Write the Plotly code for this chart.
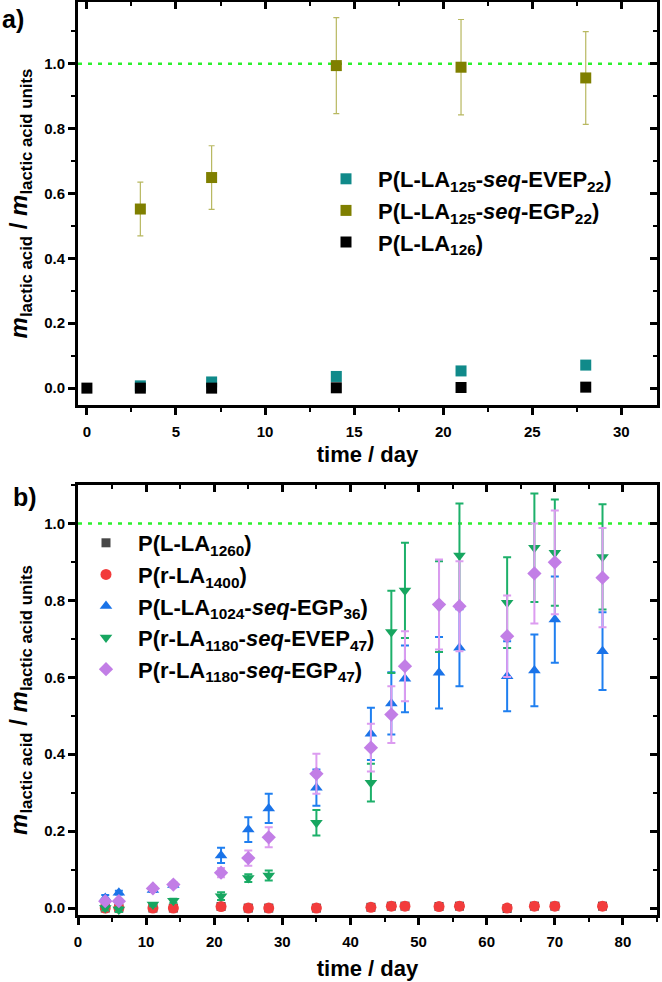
import plotly.graph_objects as go

# ---------------- Panel a data ----------------
days_evep22 = [3, 7, 14, 21, 28]
val_evep22 = [0.007, 0.019, 0.036, 0.053, 0.071]
err_evep22 = [0.004, 0.003, 0.003, 0.003, 0.003]

days_egp22 = [3, 7, 14, 21, 28]
val_egp22 = [0.552, 0.649, 0.994, 0.989, 0.956]
err_egp22 = [0.083, 0.098, 0.148, 0.147, 0.143]

days_plla126 = [0, 3, 7, 14, 21, 28]
val_plla126 = [0.0, 0.0, 0.0, 0.001, 0.002, 0.003]

# ---------------- Panel b data ----------------
days_b = [4, 6, 11, 14, 21, 25, 28, 35, 43, 46, 48, 53, 56, 63, 67, 70, 77]

val_plla1260 = [0.0, 0.0, 0.0, 0.0, 0.004, 0.0, 0.0, 0.0, 0.002, 0.005, 0.005, 0.004, 0.005, -0.001, 0.005, 0.005, 0.005]
err_plla1260 = [0.006] * 17

val_prla1400 = [0.0, 0.0, 0.0, 0.0, 0.004, 0.0, 0.0, 0.0, 0.002, 0.005, 0.005, 0.004, 0.005, 0.0, 0.005, 0.005, 0.005]
err_prla1400 = [0.004] * 17

val_egp36 = [0.026, 0.040, 0.047, 0.060, 0.137, 0.204, 0.259, 0.313, 0.453, 0.532, 0.596, 0.612, 0.677, 0.603, 0.618, 0.750, 0.668]
err_egp36 = [0.008, 0.005, 0.005, 0.006, 0.020, 0.032, 0.038, 0.047, 0.068, 0.081, 0.087, 0.093, 0.100, 0.091, 0.093, 0.112, 0.101]

val_evep47 = [0.000, -0.004, 0.009, 0.019, 0.031, 0.078, 0.085, 0.222, 0.326, 0.718, 0.826, 0.784, 0.917, 0.794, 0.937, 0.924, 0.913]
err_evep47 = [0.006, 0.006, 0.004, 0.005, 0.010, 0.010, 0.013, 0.033, 0.049, 0.107, 0.124, 0.118, 0.135, 0.118, 0.141, 0.138, 0.137]

val_egp47 = [0.018, 0.018, 0.051, 0.061, 0.092, 0.130, 0.184, 0.349, 0.417, 0.503, 0.629, 0.789, 0.785, 0.707, 0.870, 0.899, 0.859]
err_egp47 = [0.004, 0.005, 0.006, 0.006, 0.012, 0.020, 0.026, 0.052, 0.062, 0.074, 0.091, 0.117, 0.117, 0.106, 0.130, 0.135, 0.129]

REF_LINE = 1.0

W, H = 662, 982
FONT = "Liberation Sans"

def px_x(p):
    return min(1.0, max(0.0, p / W))

def px_y(p):
    return min(1.0, max(0.0, 1 - p / H))

fig = go.Figure()

# ---- panel a traces ----
fig.add_trace(go.Scatter(
    x=days_evep22, y=val_evep22, mode="markers", xaxis="x", yaxis="y",
    name="P(L-LA<sub>125</sub>-<i>seq</i>-EVEP<sub>22</sub>)",
    marker=dict(symbol="square", size=11, color="#108a8a"),
    error_y=dict(type="data", array=err_evep22, color="#108a8a", thickness=1, width=3),
    legend="legend", legendgroup="a1"))
fig.add_trace(go.Scatter(
    x=days_egp22, y=val_egp22, mode="markers", xaxis="x", yaxis="y",
    name="P(L-LA<sub>125</sub>-<i>seq</i>-EGP<sub>22</sub>)",
    marker=dict(symbol="square", size=11, color="#7f7f00"),
    error_y=dict(type="data", array=err_egp22, color="#b8b860", thickness=1.2, width=3),
    legend="legend", legendgroup="a2"))
fig.add_trace(go.Scatter(
    x=days_plla126, y=val_plla126, mode="markers", xaxis="x", yaxis="y",
    name="P(L-LA<sub>126</sub>)",
    marker=dict(symbol="square", size=11, color="#000000"),
    legend="legend", legendgroup="a3"))

# ---- panel b traces ----
def add_b(vals, errs, name, symbol, color, ecolor, grp, size=10):
    fig.add_trace(go.Scatter(
        x=days_b, y=vals, mode="markers", xaxis="x2", yaxis="y2", name=name,
        marker=dict(symbol=symbol, size=size, color=color),
        error_y=dict(type="data", array=errs, color=ecolor, thickness=2, width=4),
        legend="legend2", legendgroup=grp))

add_b(val_plla1260, err_plla1260, "P(L-LA<sub>1260</sub>)", "square", "#474747", "#474747", "b1", 9)
add_b(val_prla1400, err_prla1400, "P(r-LA<sub>1400</sub>)", "circle", "#f23c3c", "#f23c3c", "b2", 11)
add_b(val_egp36, err_egp36, "P(L-LA<sub>1024</sub>-<i>seq</i>-EGP<sub>36</sub>)", "triangle-up", "#1a73e8", "#1f7ff0", "b3", 11)
add_b(val_evep47, err_evep47, "P(r-LA<sub>1180</sub>-<i>seq</i>-EVEP<sub>47</sub>)", "triangle-down", "#17a660", "#1db06a", "b4", 11)
add_b(val_egp47, err_egp47, "P(r-LA<sub>1180</sub>-<i>seq</i>-EGP<sub>47</sub>)", "diamond", "#c27ee6", "#dc9cf0", "b5", 11)

# dummy traces so the mirrored (inside-tick) axes render
fig.add_trace(go.Scatter(x=[], y=[], xaxis="x3", yaxis="y3", showlegend=False, hoverinfo="skip"))
fig.add_trace(go.Scatter(x=[], y=[], xaxis="x4", yaxis="y4", showlegend=False, hoverinfo="skip"))

tickfont = dict(family=FONT, size=15, color="black", weight="bold")
titlefont = dict(family=FONT, size=22, color="black", weight="bold")
ytitlefont = dict(family=FONT, size=24, color="black", weight="bold")

dom_x = [px_x(78), px_x(657)]
dom_ya = [px_y(405), px_y(2)]
dom_yb = [px_y(915), px_y(485)]

xr_a = [-0.5, 32]
yr_a = [-0.052, 1.19]
xr_b = [0, 85]
yr_b = [-0.018, 1.1]

def base_axis(rng, dtick, mdtick, ticks, showlabels):
    return dict(
        range=rng, dtick=dtick, tick0=0, ticks=ticks, ticklen=7, tickwidth=2.5, tickcolor="black",
        minor=dict(dtick=mdtick, ticks=ticks, ticklen=4, tickwidth=2, tickcolor="black", showgrid=False),
        showgrid=False, zeroline=False, showticklabels=showlabels, tickfont=tickfont,
        automargin=False, fixedrange=True)

ytitle = "<i>m</i><sub>lactic acid</sub> / <i>m</i><sub>lactic acid units</sub>"

xa = base_axis(xr_a, 5, 2.5, "outside", True)
xa.update(domain=dom_x, anchor="y", showline=True, linewidth=3, linecolor="black", mirror=True,
          ticklabelstandoff=4, title=dict(text="time / day", font=titlefont, standoff=8))
ya = base_axis(yr_a, 0.2, 0.1, "outside", True)
ya.update(domain=dom_ya, anchor="x", showline=True, linewidth=3, linecolor="black", mirror=True,
          tickformat=".1f", title=dict(text=ytitle, font=ytitlefont, standoff=10))
xa3 = base_axis(xr_a, 5, 2.5, "inside", False)
xa3.update(overlaying="x", side="top", anchor="y3", showline=False)
ya3 = base_axis(yr_a, 0.2, 0.1, "inside", False)
ya3.update(overlaying="y", side="right", anchor="x3", showline=False)

xb = base_axis(xr_b, 10, 5, "outside", True)
xb.update(domain=dom_x, anchor="y2", showline=True, linewidth=3, linecolor="black", mirror=True,
          ticklabelstandoff=4, title=dict(text="time / day", font=titlefont, standoff=12))
yb = base_axis(yr_b, 0.2, 0.1, "outside", True)
yb.update(domain=dom_yb, anchor="x2", showline=True, linewidth=3, linecolor="black", mirror=True,
          tickformat=".1f", title=dict(text=ytitle, font=ytitlefont, standoff=10))
xb4 = base_axis(xr_b, 10, 5, "inside", False)
xb4.update(overlaying="x2", side="top", anchor="y4", showline=False)
yb4 = base_axis(yr_b, 0.2, 0.1, "inside", False)
yb4.update(overlaying="y2", side="right", anchor="x4", showline=False)

legfont = dict(family=FONT, size=22, color="black", weight="bold")

fig.update_layout(
    width=W, height=H, margin=dict(l=0, r=0, t=0, b=0),
    paper_bgcolor="white", plot_bgcolor="white",
    xaxis=xa, yaxis=ya, xaxis3=xa3, yaxis3=ya3,
    xaxis2=xb, yaxis2=yb, xaxis4=xb4, yaxis4=yb4,
    legend=dict(x=px_x(314), y=px_y(158), xanchor="left", yanchor="top", xref="paper", yref="paper",
                font=legfont, bgcolor="rgba(0,0,0,0)", itemwidth=54, tracegroupgap=5, traceorder="normal"),
    legend2=dict(x=px_x(74), y=px_y(522), xanchor="left", yanchor="top", xref="paper", yref="paper",
                 font=legfont, bgcolor="rgba(0,0,0,0)", itemwidth=54, tracegroupgap=4, traceorder="normal"),
    shapes=[
        dict(type="line", xref="x domain", yref="y", x0=0, x1=1, y0=REF_LINE, y1=REF_LINE,
             line=dict(color="#2cf02c", width=2.5, dash="4px,6px"), layer="below"),
        dict(type="line", xref="x2 domain", yref="y2", x0=0, x1=1, y0=REF_LINE, y1=REF_LINE,
             line=dict(color="#2cf02c", width=2.5, dash="4px,6px"), layer="below"),
    ],
    annotations=[
        dict(text="a)", xref="paper", yref="paper", x=px_x(0), y=px_y(3), xanchor="left", yanchor="top",
             showarrow=False, font=dict(family=FONT, size=25, color="black", weight="bold")),
        dict(text="b)", xref="paper", yref="paper", x=px_x(11), y=px_y(481), xanchor="left", yanchor="top",
             showarrow=False, font=dict(family=FONT, size=25, color="black", weight="bold")),
    ],
    showlegend=True,
)

# remove the page's default body margin so the figure sits at the window's top-left corner
fig.write_html("out.html", config={"displayModeBar": False},
               post_script="document.body.style.margin='0';")
